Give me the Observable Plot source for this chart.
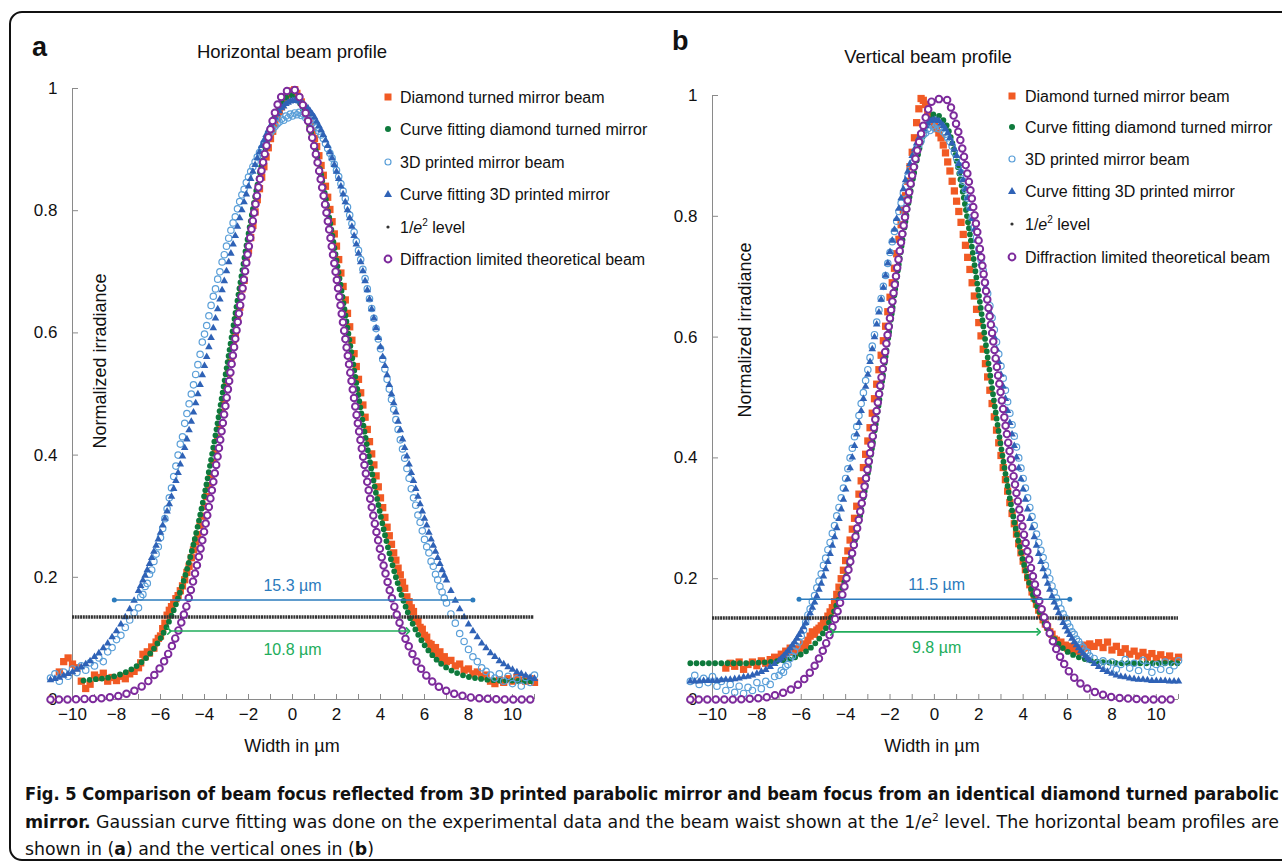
<!DOCTYPE html>
<html><head><meta charset="utf-8">
<script src="https://cdn.jsdelivr.net/npm/d3@7"></script>
<script src="https://cdn.jsdelivr.net/npm/@observablehq/plot@0.6"></script>
<style>
html,body{margin:0;padding:0;background:#fff;}
#fig{position:relative;width:1282px;height:868px;overflow:hidden;background:#fff;font-family:"Liberation Sans",Arial,Helvetica,sans-serif;}
</style></head><body><div id="fig"></div>
<script>
// ---------- shared sampling positions (µm) ----------
const xGrid = [
 -11,-10.8,-10.6,-10.4,-10.2,-10,-9.8,-9.6,-9.4,-9.2,
 -9,-8.8,-8.6,-8.4,-8.2,-8,-7.8,-7.6,-7.4,-7.2,
 -7,-6.9,-6.8,-6.7,-6.6,-6.5,-6.4,-6.3,-6.2,-6.1,
 -6,-5.9,-5.8,-5.7,-5.6,-5.5,-5.4,-5.3,-5.2,-5.1,
 -5,-4.9,-4.8,-4.7,-4.6,-4.5,-4.4,-4.3,-4.2,-4.1,
 -4,-3.9,-3.8,-3.7,-3.6,-3.5,-3.4,-3.3,-3.2,-3.1,
 -3,-2.9,-2.8,-2.7,-2.6,-2.5,-2.4,-2.3,-2.2,-2.1,
 -2,-1.9,-1.8,-1.7,-1.6,-1.5,-1.4,-1.3,-1.2,-1.1,
 -1,-0.9,-0.8,-0.7,-0.6,-0.5,-0.4,-0.3,-0.2,-0.1,
 0,0.1,0.2,0.3,0.4,0.5,0.6,0.7,0.8,0.9,
 1,1.1,1.2,1.3,1.4,1.5,1.6,1.7,1.8,1.9,
 2,2.1,2.2,2.3,2.4,2.5,2.6,2.7,2.8,2.9,
 3,3.1,3.2,3.3,3.4,3.5,3.6,3.7,3.8,3.9,
 4,4.1,4.2,4.3,4.4,4.5,4.6,4.7,4.8,4.9,
 5,5.1,5.2,5.3,5.4,5.5,5.6,5.7,5.8,5.9,
 6,6.1,6.2,6.3,6.4,6.5,6.6,6.7,6.8,6.9,
 7,
 7.2,7.4,7.6,7.8,8,8.2,8.4,8.6,8.8,9,
 9.2,9.4,9.6,9.8,10,10.2,10.4,10.6,10.8,11];
const fitX = [-11,-10.5,-10,-9.5,-9,-8.5,-8,-7.5,-7,-6.5,-6,-5.5,-5,-4.5,-4,-3.5,-3,-2.5,-2,-1.5,-1,-0.5,0,0.5,1,1.5,2,2.5,3,3.5,4,4.5,5,5.5,6,6.5,7,7.5,8,8.5,9,9.5,10,10.5,11];

// ---------- panel a: horizontal beam profile ----------
const orangeA = [
 null,null,0.045,0.062,0.068,0.058,0.052,0.030,0.018,0.025,
 0.040,0.036,0.043,0.030,0.036,0.031,0.038,0.034,0.042,0.046,
 0.052,0.060,0.074,0.070,0.078,0.076,0.086,0.084,0.094,0.100,
 0.104,0.116,0.125,0.138,0.146,0.152,0.158,0.165,0.170,0.178,
 0.186,0.196,0.208,0.218,0.232,0.245,0.258,0.270,0.285,0.300,
 0.316,0.332,0.350,0.368,0.388,0.406,0.428,0.446,0.470,0.490,
 0.512,0.534,0.552,0.580,0.596,0.626,0.642,0.672,0.686,0.716,
 0.735,0.756,0.776,0.798,0.818,0.836,0.855,0.872,0.888,0.903,
 0.918,0.930,0.942,0.952,0.962,0.970,0.978,0.984,0.990,0.994,
 0.996,0.998,0.992,0.985,0.978,0.970,0.962,0.952,0.942,0.930,
 0.918,0.905,0.890,0.874,0.858,0.840,0.822,0.802,0.782,0.762,
 0.742,0.720,0.698,0.676,0.654,0.632,0.610,0.588,0.566,0.545,
 0.524,0.502,0.482,0.462,0.442,0.422,0.402,0.384,0.366,0.348,
 0.330,0.314,0.298,0.282,0.268,0.254,0.240,0.228,0.215,0.204,
 0.192,0.182,0.168,0.160,0.150,0.144,0.132,0.128,0.118,0.115,
 0.105,0.102,0.092,0.090,0.082,0.085,0.075,0.078,0.068,0.070,
 0.062,
 0.064,0.055,0.058,0.048,0.050,0.042,0.045,0.038,0.040,0.030,
 0.026,0.032,0.028,0.034,0.030,0.036,0.032,0.030,0.034,0.028];
const lightBlueA = [
 0.035,0.042,0.030,0.045,0.038,0.050,0.044,0.055,0.048,0.060,
 0.055,0.068,0.062,0.078,0.085,0.098,0.105,0.118,0.130,0.142,
 0.150,0.168,0.172,0.185,0.190,0.205,0.212,0.226,0.238,0.250,
 0.265,0.280,0.296,0.312,0.330,0.346,0.365,0.382,0.400,0.418,
 0.430,0.452,0.468,0.484,0.500,0.515,0.532,0.548,0.565,0.585,
 0.598,0.612,0.628,0.645,0.660,0.672,0.688,0.700,0.716,0.728,
 0.742,0.755,0.768,0.780,0.790,0.803,0.815,0.826,0.835,0.846,
 0.855,0.864,0.872,0.880,0.888,0.895,0.902,0.910,0.915,0.921,
 0.928,0.932,0.938,0.942,0.945,0.950,0.948,0.955,0.952,0.958,
 0.955,0.960,0.957,0.961,0.956,0.958,0.952,0.955,0.948,0.945,
 0.940,0.936,0.930,0.924,0.918,0.910,0.902,0.894,0.886,0.876,
 0.866,0.856,0.844,0.832,0.820,0.806,0.793,0.779,0.765,0.750,
 0.735,0.720,0.704,0.689,0.672,0.656,0.640,0.624,0.607,0.590,
 0.574,0.557,0.541,0.524,0.508,0.491,0.475,0.458,0.442,0.425,
 0.410,0.395,0.378,0.362,0.345,0.330,0.318,0.302,0.290,0.276,
 0.262,0.250,0.240,0.226,0.218,0.205,0.196,0.185,0.176,0.166,
 0.158,
 0.140,0.125,0.108,0.095,0.082,0.070,0.062,0.052,0.046,0.040,
 0.035,0.042,0.030,0.038,0.026,0.034,0.022,0.036,0.028,0.040];
const triangleA = [
 0.032,0.034,0.036,0.039,0.042,0.045,0.049,0.053,0.058,0.063,
 0.070,0.076,0.084,0.092,0.102,0.112,0.123,0.135,0.148,0.162,
 0.178,0.186,0.195,0.203,0.212,0.222,0.232,0.242,0.252,0.262,
 0.273,0.285,0.296,0.308,0.320,0.332,0.345,0.358,0.371,0.385,
 0.398,0.412,0.426,0.441,0.455,0.470,0.485,0.500,0.515,0.531,
 0.546,0.561,0.577,0.592,0.608,0.624,0.639,0.655,0.670,0.685,
 0.701,0.716,0.730,0.745,0.759,0.774,0.788,0.801,0.814,0.827,
 0.840,0.852,0.864,0.875,0.886,0.896,0.906,0.915,0.924,0.932,
 0.939,0.946,0.953,0.958,0.963,0.968,0.971,0.975,0.977,0.979,
 0.980,0.980,0.980,0.979,0.977,0.975,0.971,0.968,0.963,0.958,
 0.953,0.946,0.939,0.932,0.924,0.915,0.906,0.896,0.886,0.875,
 0.864,0.852,0.840,0.827,0.814,0.801,0.788,0.774,0.759,0.745,
 0.730,0.716,0.701,0.685,0.670,0.655,0.639,0.624,0.608,0.592,
 0.577,0.561,0.546,0.531,0.515,0.500,0.485,0.470,0.455,0.441,
 0.426,0.412,0.398,0.385,0.371,0.358,0.345,0.332,0.320,0.308,
 0.296,0.285,0.273,0.262,0.252,0.242,0.232,0.222,0.212,0.203,
 0.195,
 0.178,0.162,0.148,0.135,0.123,0.112,0.102,0.092,0.084,0.076,
 0.070,0.063,0.058,0.053,0.049,0.045,0.042,0.039,0.036,0.034];
const greenFitA = [null,null,null,0.031,0.033,0.035,0.039,0.046,0.057,0.074,0.100,0.137,0.188,0.254,0.336,0.433,0.541,0.653,0.762,0.859,0.933,0.978,0.989,0.964,0.907,0.822,0.719,0.608,0.496,0.393,0.302,0.226,0.166,0.121,0.089,0.067,0.052,0.043,0.037,0.034,0.032,0.031,0.031,0.030,0.030];
const purpleA = [0,0,0,0.001,0.001,0.003,0.005,0.010,0.018,0.032,0.053,0.086,0.132,0.196,0.278,0.377,0.492,0.615,0.738,0.848,0.934,0.987,0.999,0.970,0.903,0.806,0.690,0.566,0.445,0.335,0.242,0.168,0.112,0.071,0.043,0.025,0.014,0.008,0.004,0.002,0.001,0,0,0,0];

// ---------- panel b: vertical beam profile ----------
const orangeB = [
 null,null,null,null,null,null,null,null,0.052,0.060,
 0.055,0.062,0.050,0.058,0.062,0.056,0.064,0.060,0.066,0.070,
 0.068,0.075,0.072,0.080,0.078,0.085,0.082,0.078,0.084,0.080,
 0.086,0.092,0.088,0.098,0.105,0.112,0.108,0.115,0.118,0.122,
 0.128,0.132,0.138,0.145,0.152,0.162,0.174,0.186,0.200,0.214,
 0.230,0.246,0.264,0.282,0.300,0.320,0.340,0.362,0.384,0.406,
 0.428,0.450,0.474,0.498,0.522,0.546,0.570,0.594,0.618,0.642,
 0.666,0.690,0.714,0.738,0.762,0.786,0.810,0.834,0.858,0.882,
 0.906,0.930,0.955,0.978,0.995,0.992,0.985,0.972,0.965,0.958,
 0.950,0.945,0.938,0.930,0.918,0.905,0.890,0.875,0.858,0.842,
 0.825,0.808,0.790,0.770,0.752,0.732,0.712,0.690,0.668,0.646,
 0.624,0.602,0.580,0.556,0.534,0.512,0.490,0.468,0.446,0.425,
 0.404,0.384,0.364,0.345,0.326,0.308,0.291,0.274,0.258,0.243,
 0.229,0.215,0.202,0.190,0.178,0.168,0.158,0.148,0.140,0.132,
 0.125,0.120,0.112,0.108,0.100,0.098,0.092,0.095,0.088,0.090,
 0.085,0.088,0.082,0.086,0.080,0.084,0.078,0.085,0.090,0.086,
 0.092,
 0.088,0.094,0.086,0.095,0.082,0.088,0.078,0.084,0.075,0.080,
 0.072,0.078,0.070,0.076,0.068,0.074,0.066,0.072,0.064,0.070];
const lightBlueB = [
 0.030,0.040,0.025,0.035,0.028,0.038,0.022,0.030,0.015,0.025,
 0.012,0.022,0.010,0.020,0.015,0.028,0.018,0.030,0.025,0.038,
 0.040,0.048,0.045,0.055,0.058,0.068,0.072,0.080,0.088,0.095,
 0.105,0.115,0.128,0.140,0.150,0.162,0.172,0.185,0.196,0.208,
 0.222,0.234,0.248,0.260,0.275,0.288,0.304,0.318,0.334,0.350,
 0.366,0.382,0.400,0.416,0.435,0.452,0.470,0.490,0.508,0.528,
 0.546,0.566,0.585,0.604,0.625,0.645,0.664,0.684,0.702,0.722,
 0.740,0.758,0.775,0.792,0.808,0.822,0.838,0.850,0.865,0.876,
 0.888,0.898,0.908,0.918,0.925,0.935,0.938,0.945,0.942,0.950,
 0.946,0.952,0.945,0.948,0.940,0.936,0.930,0.924,0.916,0.906,
 0.896,0.884,0.872,0.858,0.844,0.830,0.815,0.798,0.782,0.765,
 0.746,0.728,0.710,0.690,0.672,0.652,0.632,0.612,0.592,0.572,
 0.552,0.532,0.512,0.493,0.474,0.455,0.436,0.418,0.400,0.383,
 0.366,0.350,0.334,0.318,0.303,0.288,0.274,0.260,0.247,0.235,
 0.222,0.211,0.200,0.188,0.178,0.168,0.160,0.150,0.142,0.135,
 0.126,0.120,0.112,0.108,0.100,0.096,0.090,0.086,0.080,0.078,
 0.072,
 0.068,0.060,0.064,0.055,0.062,0.050,0.058,0.066,0.052,0.060,
 0.048,0.065,0.055,0.045,0.058,0.050,0.062,0.048,0.056,0.064];
const triangleB = [
 0.030,0.030,0.030,0.031,0.031,0.031,0.031,0.032,0.033,0.033,
 0.034,0.035,0.037,0.038,0.040,0.043,0.046,0.049,0.054,0.059,
 0.065,0.068,0.072,0.076,0.080,0.085,0.090,0.095,0.101,0.107,
 0.113,0.120,0.127,0.135,0.143,0.152,0.161,0.171,0.182,0.192,
 0.204,0.216,0.228,0.241,0.255,0.269,0.284,0.299,0.315,0.331,
 0.348,0.365,0.383,0.401,0.420,0.439,0.458,0.478,0.498,0.518,
 0.538,0.559,0.580,0.600,0.621,0.641,0.662,0.682,0.702,0.722,
 0.741,0.760,0.778,0.796,0.813,0.830,0.845,0.860,0.874,0.887,
 0.900,0.911,0.921,0.930,0.938,0.945,0.950,0.954,0.958,0.959,
 0.960,0.959,0.958,0.954,0.950,0.945,0.938,0.930,0.921,0.911,
 0.900,0.887,0.874,0.860,0.845,0.830,0.813,0.796,0.778,0.760,
 0.741,0.722,0.702,0.682,0.662,0.641,0.621,0.600,0.580,0.559,
 0.538,0.518,0.498,0.478,0.458,0.439,0.420,0.401,0.383,0.365,
 0.348,0.331,0.315,0.299,0.284,0.269,0.255,0.241,0.228,0.216,
 0.204,0.192,0.182,0.171,0.161,0.152,0.143,0.135,0.127,0.120,
 0.113,0.107,0.101,0.095,0.090,0.085,0.080,0.076,0.072,0.068,
 0.065,
 0.059,0.054,0.049,0.046,0.043,0.040,0.038,0.037,0.035,0.034,
 0.033,0.033,0.032,0.031,0.031,0.031,0.031,0.030,0.030,0.030];
const greenFitB = [0.060,0.060,0.060,0.060,0.060,0.060,0.061,0.062,0.064,0.067,0.075,0.088,0.111,0.148,0.202,0.277,0.374,0.491,0.619,0.746,0.856,0.935,0.969,0.954,0.892,0.793,0.671,0.541,0.419,0.313,0.229,0.167,0.124,0.096,0.079,0.070,0.065,0.062,0.061,0.060,0.060,0.060,0.060,0.060,0.060];
const purpleB = [0,0,0,0,0,0.001,0.002,0.004,0.009,0.016,0.029,0.050,0.083,0.130,0.195,0.280,0.385,0.504,0.632,0.758,0.868,0.950,0.994,0.994,0.950,0.868,0.758,0.632,0.504,0.385,0.280,0.195,0.130,0.083,0.050,0.029,0.016,0.009,0.004,0.002,0.001,0,0,0,0];

// ---------- levels, ticks, annotations ----------
const level = 0.135;
const levelSpan = [-10, 11];
const yTicks = [0, 0.2, 0.4, 0.6, 0.8, 1];
const xMinorTicks = [-10,-9,-8,-7,-6,-5,-4,-3,-2,-1,0,1,2,3,4,5,6,7,8,9,10,11];
const xLabelTicks = [-10,-8,-6,-4,-2,0,2,4,6,8,10];
const waistA = [{x1: -8.1, x2: 8.2, y: 0.163, kind: "fit3d"}, {x1: -5.6, x2: 5.25, y: 0.112, kind: "fitdt"}];
const waistLabelsA = [{x: 0, y: 0.186, text: "15.3 µm", kind: "fit3d"}, {x: 0, y: 0.082, text: "10.8 µm", kind: "fitdt"}];
const waistB = [{x1: -6.1, x2: 6.1, y: 0.166, kind: "fit3d"}, {x1: -4.6, x2: 4.7, y: 0.112, kind: "fitdt"}];
const waistLabelsB = [{x: 0.1, y: 0.189, text: "11.5 µm", kind: "fit3d"}, {x: 0.1, y: 0.085, text: "9.8 µm", kind: "fitdt"}];
const seriesNames = ["Diamond turned mirror beam", "Curve fitting diamond turned mirror", "3D printed mirror beam", "Curve fitting 3D printed mirror", "1/e2 level", "Diffraction limited theoretical beam"];

// ---------- styles ----------
const FONT = '"Liberation Sans", Arial, Helvetica, sans-serif';
const ORANGE = "#f15a24", GREEN = "#0e7a3c", LBLUE = "#5a9fd8", TRI = "#2f62b6", PURPLE = "#7d2b9c";
const BLACKL = "#333333", ABLUE = "#2b7bbd", AGREEN = "#21ad5b", AXIS = "#8a8a8a";
const fmtX = d => d < 0 ? "\u2212" + Math.abs(d) : String(d);

function panel(o) {
  const pts = xGrid.map((x, i) => ({x, orange: o.orange[i], lblue: o.lblue[i], tri: o.tri[i]}));
  const fits = fitX.map((x, i) => ({x, green: o.green[i], purple: o.purple[i]}));
  const W = 642, H = 760, mb = 61;
  const fw = W - 72 - o.mr, fh = H - o.mt - mb;
  return Plot.plot({
    width: W, height: H, marginLeft: 72, marginRight: o.mr, marginTop: o.mt, marginBottom: mb,
    style: {background: "transparent", fontFamily: FONT, fontSize: "17px", color: "#111", overflow: "visible"},
    x: {domain: [-10, 11], ticks: xLabelTicks, tickSize: 0, tickPadding: 8, tickFormat: fmtX, label: null},
    y: {domain: [0, 1], ticks: yTicks, tickSize: 0, tickPadding: 15, tickFormat: d => String(d), label: null},
    marks: [
      Plot.ruleY([0], {stroke: AXIS}),
      Plot.ruleX([-10], {stroke: AXIS}),
      Plot.tickX(xMinorTicks, {x: d => d, stroke: AXIS, insetTop: fh - 5}),
      Plot.tickY(yTicks, {y: d => d, stroke: AXIS, insetRight: fw - 6}),
      Plot.dot(pts, {x: "x", y: "orange", symbol: "square", r: 4.1, fill: ORANGE}),
      Plot.line(fits, {x: "x", y: "green", stroke: GREEN, strokeWidth: 5.8, strokeLinecap: "round", strokeDasharray: "0 6.2", curve: "monotone-x"}),
      Plot.dot(pts, {x: "x", y: "lblue", r: 3.2, stroke: LBLUE, strokeWidth: 1.2, fill: "none"}),
      Plot.dot(pts, {x: "x", y: "tri", symbol: "triangle", r: 2.8, fill: TRI}),
      Plot.ruleY([{y: level, x1: levelSpan[0], x2: levelSpan[1]}], {y: "y", x1: "x1", x2: "x2", stroke: BLACKL, strokeWidth: 3.6, strokeDasharray: "2 0.7"}),
      Plot.line(fits, {x: "x", y: "purple", stroke: PURPLE, strokeWidth: 8.5, strokeLinecap: "round", strokeDasharray: "0 8.5", curve: "monotone-x"}),
      Plot.line(fits, {x: "x", y: "purple", stroke: "white", strokeWidth: 4.6, strokeLinecap: "round", strokeDasharray: "0 8.5", curve: "monotone-x"}),
      Plot.link(o.waist.filter(d => d.kind === "fit3d"), {x1: "x1", x2: "x2", y1: "y", y2: "y", stroke: ABLUE, strokeWidth: 1.5, markerStart: "dot", markerEnd: "dot"}),
      Plot.link(o.waist.filter(d => d.kind === "fitdt"), {x1: "x1", x2: "x2", y1: "y", y2: "y", stroke: AGREEN, strokeWidth: 1.6, markerStart: "arrow", markerEnd: "arrow"}),
      Plot.text(o.labels.filter(d => d.kind === "fit3d"), {x: "x", y: "y", text: "text", fill: ABLUE, fontSize: 16}),
      Plot.text(o.labels.filter(d => d.kind === "fitdt"), {x: "x", y: "y", text: "text", fill: AGREEN, fontSize: 16})
    ]
  });
}

const fig = document.getElementById("fig");
function place(node, left) {
  const w = document.createElement("div");
  w.style.cssText = `position:absolute;left:${left}px;top:0;`;
  w.appendChild(node);
  fig.appendChild(w);
}
place(panel({orange: orangeA, lblue: lightBlueA, tri: triangleA, green: greenFitA, purple: purpleA, mr: 108, mt: 88, waist: waistA, labels: waistLabelsA}), 0);
place(panel({orange: orangeB, lblue: lightBlueB, tri: triangleB, green: greenFitB, purple: purpleB, mr: 104, mt: 95, waist: waistB, labels: waistLabelsB}), 640);

// ---------- overlay: frame, titles, legends, caption ----------
const svg = d3.create("svg").attr("width", 1282).attr("height", 868)
  .style("position", "absolute").style("left", "0px").style("top", "0px")
  .style("font-family", FONT).style("pointer-events", "none");
svg.append("rect").attr("x", 10).attr("y", 12).attr("width", 1300).attr("height", 848)
  .attr("rx", 12).attr("fill", "none").attr("stroke", "#111").attr("stroke-width", 2);

function txt(x, y, s, opts = {}) {
  const t = svg.append("text").attr("x", x).attr("y", y).text(s).attr("fill", opts.fill || "#111")
    .attr("font-size", opts.size || 16);
  if (opts.bold) t.attr("font-weight", "bold");
  if (opts.anchor) t.attr("text-anchor", opts.anchor);
  return t;
}
txt(32, 56, "a", {size: 27, bold: true});
txt(292, 58, "Horizontal beam profile", {size: 18.5, anchor: "middle"});
txt(672, 50, "b", {size: 27, bold: true});
txt(928, 63, "Vertical beam profile", {size: 18.5, anchor: "middle"});
txt(292, 752, "Width in µm", {size: 18, anchor: "middle"});
txt(932, 752, "Width in µm", {size: 18, anchor: "middle"});
[[100, 361], [745, 330]].forEach(([cx, cy]) => {
  svg.append("text").attr("transform", `translate(${cx},${cy}) rotate(-90)`).attr("text-anchor", "middle")
    .attr("dominant-baseline", "central").attr("font-size", 18).attr("fill", "#111").text("Normalized irradiance");
});

function legend(mx, tx, ys) {
  ys.forEach((y, i) => {
    const g = svg.append("g");
    if (i === 0) g.append("rect").attr("x", mx - 3.5).attr("y", y - 3.5).attr("width", 7).attr("height", 7).attr("fill", ORANGE);
    if (i === 1) g.append("circle").attr("cx", mx).attr("cy", y).attr("r", 3).attr("fill", GREEN);
    if (i === 2) g.append("circle").attr("cx", mx).attr("cy", y).attr("r", 3).attr("fill", "none").attr("stroke", LBLUE).attr("stroke-width", 1.2);
    if (i === 3) g.append("path").attr("d", `M${mx},${y - 4}L${mx + 4},${y + 3}L${mx - 4},${y + 3}Z`).attr("fill", TRI);
    if (i === 4) g.append("circle").attr("cx", mx).attr("cy", y).attr("r", 1.6).attr("fill", BLACKL);
    if (i === 5) g.append("circle").attr("cx", mx).attr("cy", y).attr("r", 3.4).attr("fill", "none").attr("stroke", PURPLE).attr("stroke-width", 2);
    const t = svg.append("text").attr("x", tx).attr("y", y + 6).attr("font-size", 16).attr("fill", "#111");
    if (i === 4) {
      t.append("tspan").text("1/");
      t.append("tspan").attr("font-style", "italic").text("e");
      t.append("tspan").attr("dy", -7).attr("font-size", 10).text("2");
      t.append("tspan").attr("dy", 7).text(" level");
    } else t.text(seriesNames[i]);
  });
}
legend(388, 400, [97, 129, 162, 194, 227, 259]);
legend(1012, 1025, [96, 127, 159, 191, 224, 257]);

const CAPFONT = '"Liberation Sans Narrow", "DejaVu Sans Condensed", "Liberation Sans", Arial, sans-serif';
const c1 = svg.append("text").attr("x", 25).attr("y", 800).attr("font-size", 18).attr("font-family", CAPFONT)
  .attr("font-weight", "bold").attr("fill", "#111").attr("textLength", 1254).attr("lengthAdjust", "spacingAndGlyphs")
  .text("Fig. 5 Comparison of beam focus reflected from 3D printed parabolic mirror and beam focus from an identical diamond turned parabolic");
const c2 = svg.append("text").attr("x", 25).attr("y", 828).attr("font-size", 18).attr("font-family", CAPFONT)
  .attr("fill", "#111").attr("textLength", 1254).attr("lengthAdjust", "spacingAndGlyphs");
c2.append("tspan").attr("font-weight", "bold").text("mirror.");
c2.append("tspan").text(" Gaussian curve fitting was done on the experimental data and the beam waist shown at the 1/");
c2.append("tspan").attr("font-style", "italic").text("e");
c2.append("tspan").attr("dy", -7).attr("font-size", 11).text("2");
c2.append("tspan").attr("dy", 7).text(" level. The horizontal beam profiles are");
const c3 = svg.append("text").attr("x", 25).attr("y", 855).attr("font-size", 18).attr("font-family", CAPFONT)
  .attr("fill", "#111").attr("textLength", 349).attr("lengthAdjust", "spacingAndGlyphs");
c3.append("tspan").text("shown in (");
c3.append("tspan").attr("font-weight", "bold").text("a");
c3.append("tspan").text(") and the vertical ones in (");
c3.append("tspan").attr("font-weight", "bold").text("b");
c3.append("tspan").text(")");
fig.appendChild(svg.node());
</script></body></html>
